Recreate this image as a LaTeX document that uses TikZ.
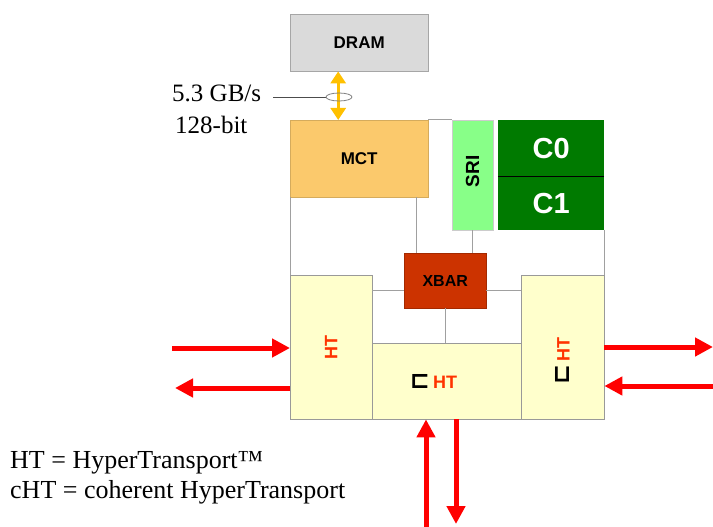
\documentclass[tikz,border=0pt]{standalone}
\usepackage{fontspec}
\setmainfont{Liberation Serif}
\setsansfont{Liberation Sans}
\newfontfamily\symfont{DejaVu Sans}
\usetikzlibrary{arrows.meta,positioning}

\newcommand{\fsize}[1]{\fontsize{#1}{#1}\selectfont}
\newcommand{\cmark}{{\symfont\fsize{24}\color{black}⊏}}

\definecolor{dramgray}{HTML}{DADADA}
\definecolor{mctorange}{HTML}{FBC96C}
\definecolor{srigreen}{HTML}{88FF88}
\definecolor{coregreen}{HTML}{007A00}
\definecolor{xbarred}{HTML}{CC3300}
\definecolor{htyellow}{HTML}{FFFFCC}
\definecolor{htred}{HTML}{FF3300}
\definecolor{busyellow}{HTML}{FFC000}
\definecolor{linkred}{HTML}{FF0000}
\definecolor{wiregray}{HTML}{A0A0A0}

\begin{document}
\begin{tikzpicture}[
    x=1pt, y=-1pt,
    every node/.style={inner sep=0pt},
    block/.style={draw=wiregray, anchor=north west, font=\sffamily\bfseries},
    htblock/.style={block, fill=htyellow, draw=gray!80},
    htlabel/.style={font=\sffamily\bfseries\fsize{18}, text=htred},
    wire/.style={draw=wiregray, line width=1pt},
    link/.style={draw=linkred, line width=5pt, -{Triangle[length=18pt,width=18pt]}},
    note/.style={font=\fsize{26}, anchor=base west}
]

% Frame
\useasboundingbox (0,0) rectangle (713,527);

% Memory side
\node[block, fill=dramgray, draw=gray!70, minimum width=138pt, minimum height=57pt,
      font=\sffamily\bfseries\fsize{17}] (dram) at (290,14) {DRAM};
\node[block, fill=mctorange, draw=mctorange!85!black, minimum width=138pt, minimum height=77pt,
      font=\sffamily\bfseries\fsize{17}] (mct) at (290,120) {MCT};

% Request queue and cores
\node[block, fill=srigreen, draw=gray!40, minimum width=41pt, minimum height=110pt] (sri) at (452,120) {};
\node[font=\sffamily\bfseries\fsize{19}, rotate=90] (sritxt) at ([yshift=4pt]sri.center) {SRI};
\node[block, fill=coregreen, draw=none, minimum width=106pt, minimum height=56pt,
      font=\sffamily\bfseries\fsize{29}, text=white] (c0) at (498,120) {C0};
\node[block, fill=coregreen, draw=none, minimum width=106pt, minimum height=54pt,
      font=\sffamily\bfseries\fsize{29}, text=white] (c1) at (498,176) {C1};
\draw[black, line width=1.2pt] (c0.south west) -- (c0.south east);

% Crossbar
\node[block, fill=xbarred, draw=xbarred!80!black, minimum width=82pt, minimum height=55pt,
      font=\sffamily\bfseries\fsize{16}] (xbar) at (404,253) {XBAR};

% HyperTransport links
\node[htblock, minimum width=82pt, minimum height=144pt] (htl) at (290,275) {};
\node[htblock, minimum width=149pt, minimum height=76pt] (htb) at (372,343) {};
\node[htblock, minimum width=83pt, minimum height=144pt] (htr) at (521,275) {};
\node[htlabel, rotate=90] (htltxt) at (htl) {HT};
\node[htlabel, anchor=west] (htbtxt) at ([xshift=-37pt]htb.center) {\cmark\,HT};
\node[htlabel, rotate=90] (htrtxt) at ([yshift=-14pt]htr.center) {\cmark\,HT};

% Internal wiring
\draw[wire] (mct.south west) -- (htl.north west);
\draw[wire] (mct.north east) -- (sri.north west);
\draw[wire] (c1.south east) -- (htr.north east);
\draw[wire] ([xshift=57pt]mct.south) -- ([xshift=57pt]mct.south |- xbar.north);
\draw[wire] (sri.south) -- (sri.south |- xbar.north);
\draw[wire] ([yshift=-10pt]xbar.west) -- ([yshift=-10pt]xbar.west -| htl.east);
\draw[wire] ([yshift=-10pt]xbar.east) -- ([yshift=-10pt]xbar.east -| htr.west);
\draw[wire] (xbar.south) -- (xbar.south |- htb.north);

% Memory bus
\draw[busyellow, line width=3pt, {Triangle[length=12pt,width=15pt]}-{Triangle[length=12pt,width=15pt]}]
    ([xshift=-21pt]dram.south) -- ([xshift=-21pt]mct.north);
\node[note, font=\fsize{25}] (rate) at (172,102) {5.3 GB/s};
\node[note, font=\fsize{25}] (width) at (175,134) {128-bit};
\coordinate (tie) at (326,97);
\draw[black!70, line width=0.8pt] (273,97) -- (tie);
\draw[gray, line width=0.8pt] (339,97) ellipse [x radius=13pt, y radius=4pt];

% External links
\coordinate (inL) at (172,348);
\coordinate (outL) at (175,388);
\coordinate (outR) at (713,347);
\coordinate (inR) at (713,386);
\coordinate (inB) at (426,527);
\coordinate (outB) at (456,524);
\draw[link] (inL) -- (inL -| htl.west);
\draw[link] (outL -| htl.west) -- (outL);
\draw[link] (outR -| htr.east) -- (outR);
\draw[link] (inR) -- (inR -| htr.east);
\draw[link] (inB) -- (inB |- htb.south);
\draw[link] (outB |- htb.south) -- (outB);

% Legend
\node[note] (legend1) at (10,468) {HT = HyperTransport™};
\node[note] (legend2) at (10,498) {cHT = coherent HyperTransport};

\end{tikzpicture}
\end{document}
